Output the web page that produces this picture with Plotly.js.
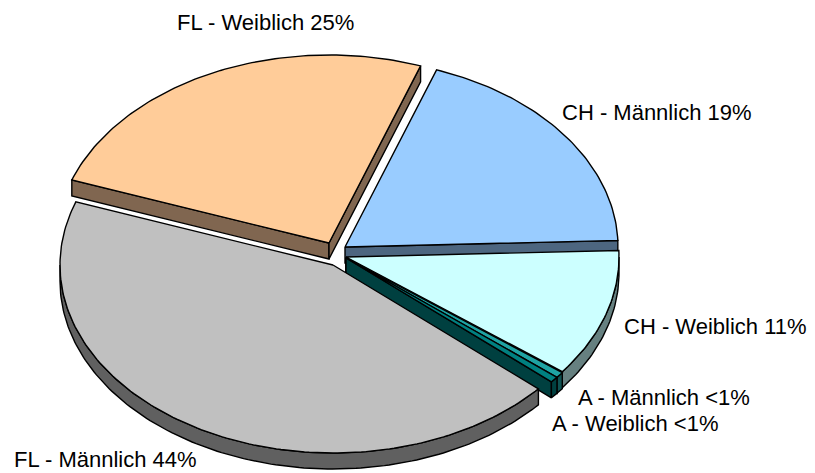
<!DOCTYPE html>
<html>
<head>
<meta charset="utf-8">
<script src="https://cdn.plot.ly/plotly-3.0.1.min.js"></script>
<style>html,body{margin:0;padding:0;background:#fff;}#chart{width:815px;height:473px;}</style>
</head>
<body>
<div id="chart"></div>
<script>
// ---- data (clockwise order, starting just above 3 o'clock) ----
const categories = ['CH - Weiblich', 'A - Männlich', 'A - Weiblich', 'FL - Männlich', 'FL - Weiblich', 'CH - Männlich'];
const shares = [11, 0.5, 0.5, 44, 25, 19];
const shareLabels = ['11%', '<1%', '<1%', '44%', '25%', '19%'];

// ---- styles / geometry (not data) ----
const topColors  = ['#CCFFFF', '#1FA3A3', '#008080', '#C0C0C0', '#FFCC99', '#99CCFF'];
const sideColors = ['#668080', '#0F5252', '#004040', '#606060', '#806650', '#4D6680'];
const baseCenter = [340, 255];
const sliceShift = [[6, 2], [6, 3], [6, 3], [-7, 10], [-11, -12], [5, -8]];
const labelPos = [[622, 326], [576, 397], [550, 423], [12, 459], [175, 22], [560, 112]];
const RX = 273, RY = 188, DEPTH = 16, START_DEG = -2;

const total = shares.reduce((a, b) => a + b, 0);
const traces = [];
function P(c, t, d) { return [c[0] + RX * Math.cos(t), c[1] + RY * Math.sin(t) + (d || 0)]; }
function arc(c, t1, t2, d) {
  const n = Math.max(2, Math.ceil((t2 - t1) / (Math.PI / 180)));
  const pts = [];
  for (let k = 0; k <= n; k++) pts.push(P(c, t1 + (t2 - t1) * k / n, d));
  return pts;
}
function poly(pts, fill) {
  traces.push({
    type: 'scatter', mode: 'lines', x: pts.map(p => p[0]), y: pts.map(p => p[1]),
    fill: 'toself', fillcolor: fill, line: {color: '#000', width: 1.4},
    hoverinfo: 'skip', showlegend: false
  });
}

const slices = [];
let acc = START_DEG * Math.PI / 180;
shares.forEach((v, i) => {
  const t1 = acc, t2 = acc + v / total * 2 * Math.PI;
  acc = t2;
  slices.push({i, t1, t2, mid: (t1 + t2) / 2});
});
// painter's order: back to front
slices.slice().sort((a, b) => Math.sin(a.mid) - Math.sin(b.mid)).forEach(s => {
  const c = [baseCenter[0] + sliceShift[s.i][0], baseCenter[1] + sliceShift[s.i][1]];
  const cd = [c[0], c[1] + DEPTH];
  if (Math.cos(s.t1) < 0) { const a = P(c, s.t1), b = P(c, s.t1, DEPTH); poly([c, a, b, cd, c], sideColors[s.i]); }
  if (Math.cos(s.t2) > 0) { const a = P(c, s.t2), b = P(c, s.t2, DEPTH); poly([c, a, b, cd, c], sideColors[s.i]); }
  const f1 = Math.max(s.t1, 0), f2 = Math.min(s.t2, Math.PI);
  if (f2 > f1) {
    const up = arc(c, f1, f2, 0), dn = arc(c, f1, f2, DEPTH).reverse();
    poly(up.concat(dn, [up[0]]), sideColors[s.i]);
  }
  poly([c].concat(arc(c, s.t1, s.t2, 0), [c]), topColors[s.i]);
});

const annotations = categories.map((name, i) => ({
  x: labelPos[i][0], y: labelPos[i][1], xref: 'x', yref: 'y',
  text: name + ' ' + shareLabels[i], showarrow: false, xanchor: 'left', yanchor: 'middle',
  font: {family: 'Liberation Sans, Arial, sans-serif', size: 22, color: '#000'}
}));

Plotly.newPlot('chart', traces, {
  width: 815, height: 473, margin: {l: 0, r: 0, t: 0, b: 0},
  paper_bgcolor: '#fff', plot_bgcolor: '#fff', showlegend: false,
  xaxis: {range: [0, 815], visible: false, fixedrange: true},
  yaxis: {range: [473, 0], visible: false, fixedrange: true},
  annotations: annotations
}, {staticPlot: true});
</script>
</body>
</html>
